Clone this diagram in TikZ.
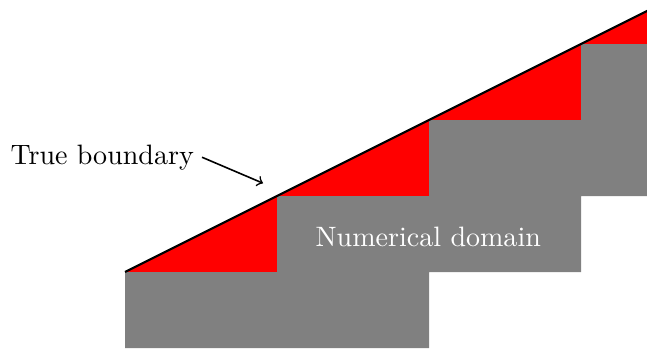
\documentclass[tikz,border=0pt]{standalone}
\begin{document}
\begin{tikzpicture}[
  stepfill/.style={fill={rgb,255:red,128;green,128;blue,128}},
  redfill/.style={fill=red},
  lbl/.style={font=\fontsize{10.5}{12}\selectfont, inner sep=0pt}
]
\useasboundingbox (-1.645,-0.053) rectangle (6.868,4.579);
\begin{scope}
\clip (-1.645,-0.053) rectangle (6.868,4.579);
% red region between boundary and staircase
\fill[redfill] (0,1) -- (8,5) -- (8,4) -- (6,4) -- (6,3) -- (4,3) -- (4,2) -- (2,2) -- (2,1) -- cycle;
% gray staircase
\fill[stepfill] (0,0) -- (4,0) -- (4,1) -- (6,1) -- (6,2) -- (8,2) -- (8,4) -- (6,4) -- (6,3) -- (4,3) -- (4,2) -- (2,2) -- (2,1) -- (0,1) -- cycle;
% true boundary
\draw[line width=0.8pt] (0,1) -- (8,5);
\end{scope}
\node[lbl] (tb) at (-0.30,2.51) {True boundary};
\coordinate (tip) at (1.816,2.168);
\draw[->, line width=0.6pt] (tb.east) ++(0.1,0) -- (tip);
\node[lbl, text=white] (nd) at (3.99,1.46) {Numerical domain};
\end{tikzpicture}
\end{document}
